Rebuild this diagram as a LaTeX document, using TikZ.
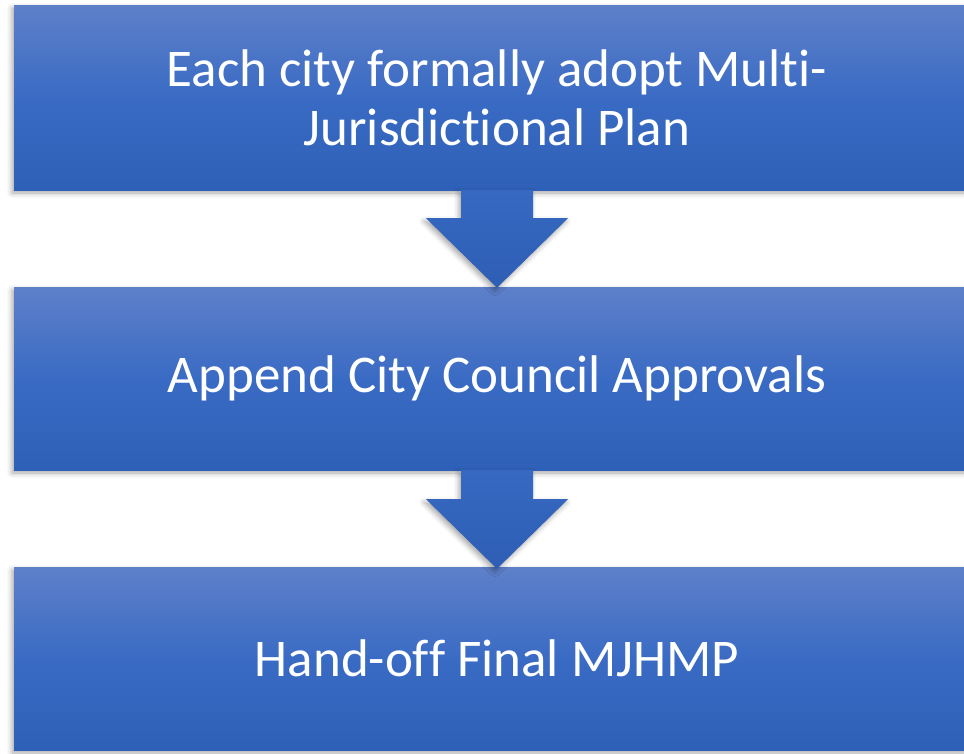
\documentclass[tikz,border=0pt]{standalone}
\usepackage{fontspec}
\setmainfont{Carlito}[RawFeature={-liga;-clig;-calt;-dlig}]
\usetikzlibrary{shadows.blur}
\definecolor{gtop}{HTML}{5E80C9}
\definecolor{gmid}{HTML}{3A6BC4}
\definecolor{gbot}{HTML}{2F60B7}
\definecolor{atop}{HTML}{3669C2}
\definecolor{abot}{HTML}{2E5EB4}
\tikzset{
  stagebox/.style={rectangle, inner sep=0pt, minimum width=966pt,
    top color=gtop, bottom color=gbot, middle color=gmid,
    text=white, align=center, font=\fontsize{53}{59}\selectfont,
    blur shadow={shadow xshift=-2pt, shadow yshift=-3pt, shadow blur radius=5pt, shadow opacity=35}},
  downarrow/.style={top color=atop, bottom color=abot,
    blur shadow={shadow xshift=-2pt, shadow yshift=-3pt, shadow blur radius=5pt, shadow opacity=35}}
}
\begin{document}
\begin{tikzpicture}[x=1pt,y=-1pt]
\useasboundingbox (0,0) rectangle (964,753);
\node[stagebox, minimum height=185pt] (b1) at (497,97.5) {Each city formally adopt Mult\kern0pt i-\\Jurisdict\kern0pt ional Plan};
\node[stagebox, minimum height=183pt] (b2) at (497,378.5) {Append City Council Approvals};
\node[stagebox, minimum height=183pt] (b3) at (497,658.5) {Hand-of\kern0pt f Final MJHMP};
\path[downarrow] ([xshift=-36pt]b1.south) -- ([xshift=36pt]b1.south)
  -- ([xshift=36pt,yshift=-28pt]b1.south) -- ([xshift=71pt,yshift=-28pt]b1.south)
  -- ([yshift=-1pt]b2.north) -- ([xshift=-71pt,yshift=-28pt]b1.south)
  -- ([xshift=-36pt,yshift=-28pt]b1.south) -- cycle;
\path[downarrow] ([xshift=-36pt]b2.south) -- ([xshift=36pt]b2.south)
  -- ([xshift=36pt,yshift=-29pt]b2.south) -- ([xshift=71pt,yshift=-29pt]b2.south)
  -- ([yshift=-2pt]b3.north) -- ([xshift=-71pt,yshift=-29pt]b2.south)
  -- ([xshift=-36pt,yshift=-29pt]b2.south) -- cycle;
\end{tikzpicture}
\end{document}
